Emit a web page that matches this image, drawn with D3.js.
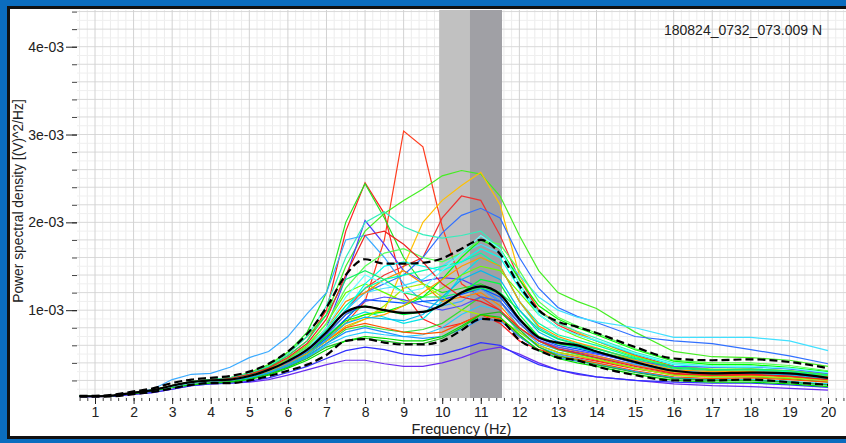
<!DOCTYPE html>
<html>
<head>
<meta charset="utf-8">
<script src="https://cdn.jsdelivr.net/npm/d3@7"></script>
<style>
  html, body { margin: 0; padding: 0; background: #0b6dbf; }
  svg { display: block; font-family: "Liberation Sans", Arial, sans-serif; }
</style>
</head>
<body>
<svg id="chart"></svg>
<script>
// frequencies (Hz) at which every spectrum is read
const freqs = [0.6, 1, 1.5, 2, 2.5, 3, 3.5, 4, 4.5, 5, 5.5, 6, 6.5, 7, 7.5, 8, 8.5, 9, 9.5, 10,
  10.5, 11, 11.5, 12, 12.5, 13, 13.5, 14, 15, 16, 17, 18, 19, 20];

// power spectral density, in units of 1e-4 (V)^2/Hz
const spectra = [
  [0.2,0.2,0.3,0.6,0.9,1.4,1.8,2.0,2.1,2.6,3.3,4.3,5.5,7.0,8.5,11,18,30.4,28.6,19.5,13,11.5,10,7.5,6,5.2,4.8,4.3,3.4,2.7,2.5,2.6,2.4,2.0],
  [0.2,0.2,0.3,0.6,0.9,1.4,1.8,2.1,2.2,2.7,3.5,4.8,6.5,10,19,24.5,21,12,9,8,8.5,9.5,8.5,6.5,5.5,5,4.6,4.2,3.3,2.7,2.6,2.7,2.5,2.1],
  [0.2,0.2,0.3,0.6,0.9,1.4,1.9,2.1,2.3,2.8,3.7,5.2,7.5,12,20,24.4,20.5,16,13,12,12.5,13,12,9,7,6.2,5.8,5.3,4.3,3.4,3.1,3.2,3.0,2.6],
  [0.2,0.2,0.3,0.6,0.9,1.4,1.8,2.1,2.3,2.9,3.8,5.2,7,9.5,15,19,21,22.5,23.8,25.3,25.9,25.5,23,18.5,14.5,12,11,10.2,7.5,5.3,4.7,4.6,4.3,3.6],
  [0.2,0.2,0.3,0.6,0.9,1.3,1.7,1.9,2.0,2.4,3.0,4.0,5.2,6.8,8.5,9.5,10,15,20,22.5,24.2,25.7,22,14,10,8.5,7.5,6.5,4.8,3.6,3.2,3.2,3.0,2.6],
  [0.2,0.2,0.3,0.6,0.9,1.4,1.8,2.0,2.2,2.6,3.3,4.4,5.8,7.5,10,12.5,14,15,16,20.5,23,22.5,18.5,13.5,10,8.3,7.3,6.5,4.9,3.6,3.2,3.3,3.1,2.7],
  [0.2,0.2,0.3,0.6,0.9,1.4,1.8,2.0,2.2,2.6,3.3,4.4,5.8,7.5,10,12,13,14,16,18.8,20.8,21.6,20.5,16,12.5,10.3,9.3,8.6,7,6.5,6.2,5.5,4.8,3.9],
  [0.2,0.2,0.3,0.6,0.9,1.4,1.8,2.0,2.2,2.6,3.2,4.2,5.6,8,13.7,20.2,17.5,14.5,13.3,13.7,13.5,12.5,11,8.5,6.5,5.6,5.2,4.8,3.8,3.0,2.8,2.9,2.7,2.3],
  [0.2,0.2,0.3,0.6,0.9,1.4,1.8,2.1,2.3,2.8,3.6,5,7,10.5,16,20,21.2,19.5,18.6,18.2,18.5,19,17,13,9.8,8.5,7.6,6.8,5.2,4.0,3.6,3.6,3.4,2.9],
  [0.2,0.2,0.3,0.6,1.0,2.1,2.7,2.8,3.5,4.6,5.3,7.0,9.6,12,18,18.5,16,13,11,10.5,11,12.5,11,8,6.2,5.5,5,4.6,3.8,3.1,2.9,3.0,2.8,2.4],
  [0.2,0.2,0.3,0.6,0.9,1.3,1.7,2.0,2.1,2.5,3.1,4.2,5.5,7.5,10,12,12.5,12.8,13.5,15,16.5,17.5,16.5,14,11.5,10,9.2,8.7,8.0,6.9,6.9,6.9,6.5,5.4],
  [0.15,0.15,0.2,0.4,0.6,1.0,1.4,1.6,1.7,1.8,2.1,2.6,3.2,3.8,4.3,4.3,3.9,3.6,3.6,4.0,4.6,5.4,5.8,5.0,4.0,3.2,2.7,2.4,2.0,1.6,1.4,1.3,1.1,0.9],
  [0.15,0.15,0.2,0.45,0.65,1.0,1.4,1.6,1.7,1.9,2.3,2.9,3.6,4.5,5.4,5.8,5.5,5.0,4.8,5.0,5.6,6.3,6.0,4.8,3.8,3.2,2.8,2.4,2.0,1.8,1.7,1.7,1.5,1.2],
  [0.2,0.2,0.3,0.6,0.9,1.3,1.7,1.9,2.0,2.4,3.0,4.0,5.3,7.2,9.5,10.5,10,9.5,9.8,10.5,12,13.5,13,9.5,7,6.2,5.8,5.2,4.0,3.0,2.7,2.8,2.6,2.2],
  [0.2,0.2,0.3,0.55,0.85,1.3,1.7,1.9,2.0,2.4,3.0,4.0,5.2,7,9,9.8,9.2,8.5,9,11,14,16,15,11,8,6.8,6.2,5.6,4.4,3.3,3.0,3.0,2.8,2.4],
  [0.2,0.2,0.3,0.6,0.9,1.4,1.8,2.0,2.1,2.6,3.3,4.5,6,8.5,12,13,12,11,11.5,12.5,14,15,14.5,12,9.5,8,7,6.2,4.7,3.6,3.3,3.3,3.1,2.7],
  [0.2,0.2,0.3,0.6,0.9,1.4,1.8,2.0,2.1,2.5,3.2,4.3,5.7,8,11,12,13.5,14.5,13,11,11.5,12,10.5,8,6.5,5.8,5.3,4.8,3.7,2.9,2.8,2.9,2.7,2.3],
  [0.2,0.2,0.3,0.6,0.9,1.3,1.7,1.9,2.1,2.5,3.1,4.2,5.6,7.8,10.5,12.5,13.5,14,14.5,15,15.5,16.5,15,11,8.5,7.2,6.6,6,4.6,3.5,3.2,3.2,3.0,2.5],
  [0.2,0.2,0.3,0.55,0.85,1.3,1.7,1.9,2.0,2.3,2.9,3.8,5,6.8,9,11.2,11,10.8,11,11.2,11.8,12.5,11.5,8.8,6.8,6,5.6,5.1,4.0,3.1,2.8,2.9,2.7,2.3],
  [0.2,0.2,0.3,0.55,0.85,1.2,1.6,1.8,1.9,2.3,2.8,3.7,4.8,6.2,7.8,8.2,7.8,7.5,7.8,8.5,10,11.5,11,8.5,6.5,5.5,5,4.5,3.4,2.6,2.4,2.4,2.2,1.8],
  [0.2,0.2,0.3,0.55,0.8,1.2,1.6,1.8,1.9,2.2,2.8,3.6,4.6,6,7,7.5,7.2,7,7.2,8,9.5,10.5,10,7.5,5.8,5,4.5,4.0,3.0,2.3,2.1,2.1,1.9,1.6],
  [0.2,0.2,0.3,0.6,0.9,1.3,1.7,1.9,2.0,2.4,3.0,4.0,5.2,7,8.8,9.5,9.8,10.5,11.5,13.5,16,18,17,13.5,10.5,9,8,7.2,5.5,4.2,3.8,3.8,3.5,3.0],
  [0.2,0.2,0.3,0.6,0.9,1.3,1.7,1.9,2.0,2.4,3.0,3.9,5,6.5,8,9,10.5,12.5,13,11.5,10,9.5,9,7.5,6,5.2,4.8,4.4,3.4,2.6,2.4,2.5,2.3,2.0],
  [0.2,0.2,0.3,0.55,0.85,1.2,1.6,1.8,1.9,2.3,2.9,3.8,5,6.5,8,8.5,8,7.5,7.3,7.5,8.5,9.5,9,7,5.5,4.8,4.4,4.0,3.1,2.4,2.2,2.3,2.1,1.8],
  [0.2,0.2,0.3,0.6,0.9,1.3,1.8,2.0,2.1,2.5,3.2,4.3,5.8,8.5,12.5,15,16.5,17,16,15.5,16.5,18,17.5,14.5,11,9.2,8.2,7.4,5.6,4.3,4.0,4.0,3.7,3.1],
  [0.2,0.2,0.3,0.55,0.85,1.3,1.6,1.8,1.9,2.2,2.8,3.6,4.7,6.2,7.5,8,7.5,7,6.8,7,7.8,9,8.8,7,5.4,4.6,4.2,3.8,3.0,2.3,2.0,2.0,1.8,1.5],
  [0.2,0.2,0.3,0.55,0.85,1.3,1.7,1.9,2.0,2.4,3.0,4.0,5.3,7.3,10,13,15,15.5,15,14.5,15.5,17,16,12.5,9.5,8,7.2,6.5,5,3.8,3.5,3.5,3.3,2.8],
  [0.2,0.2,0.3,0.55,0.8,1.2,1.6,1.8,1.9,2.2,2.7,3.5,4.5,5.8,6.5,6.8,6.5,6.2,6.2,6.8,8,9.5,9.8,7.8,5.8,4.8,4.3,3.8,2.9,2.2,2.0,2.0,1.8,1.5],
  [0.2,0.2,0.3,0.55,0.85,1.3,1.7,1.9,2.0,2.4,3.0,4.0,5.3,7.2,9.5,11,11.5,11.2,10.5,10,10.5,11.5,11,8.5,6.6,5.8,5.4,5.0,4.2,3.6,3.5,3.6,3.3,2.8],
  [0.2,0.2,0.3,0.55,0.85,1.3,1.7,1.9,2.0,2.4,3.0,3.9,5,6.5,8.2,9,9.5,10.5,12,13.5,15,16,15,11,8.2,7,6.3,5.7,4.3,3.2,3.0,3.0,2.8,2.4],
  [0.2,0.2,0.3,0.6,0.9,1.4,1.8,2.0,2.2,2.7,3.5,4.8,6.5,9.5,13.5,14.5,13.5,12,11.5,11.5,12,12.5,12,10,7.8,6.7,6.1,5.6,4.5,3.5,3.2,3.3,3.1,2.6],
  [0.2,0.2,0.3,0.55,0.85,1.3,1.7,1.9,2.0,2.3,2.9,3.8,4.9,6.6,8.5,9.2,9,8.8,9.5,11.5,13.5,14.5,13.5,10,7.5,6.4,5.8,5.3,4.1,3.1,2.8,2.8,2.6,2.2],
  [0.2,0.2,0.3,0.5,0.8,1.2,1.5,1.7,1.8,2.1,2.6,3.4,4.3,5.5,6.5,7,6.8,6.5,6.5,7,8.2,9.5,9.2,7.2,5.4,4.5,4.0,3.6,2.7,2.0,1.8,1.8,1.6,1.3],
  [0.2,0.2,0.3,0.6,0.9,1.4,1.8,2.0,2.2,2.7,3.4,4.6,6.2,9,14,18.5,19,17.5,15.5,13,11.5,11,10,8,6.5,5.6,5.1,4.6,3.6,2.8,2.6,2.7,2.5,2.1],
  [0.2,0.2,0.3,0.6,0.9,1.3,1.7,1.9,2.1,2.5,3.1,4.2,5.6,8,11.5,14,13,12,12.5,14.5,16.5,18.5,17,13,9.5,8,7.2,6.6,5.1,3.9,3.6,3.6,3.4,2.9]
];

const spectraColors = [
  "#ff3c1e", "#ff2020", "#22e622", "#44ee22", "#ffc000", "#ee3333", "#3070ff", "#4a3cff",
  "#33eebb", "#3aaaff", "#40e0ff", "#6a2cf0", "#3030ff", "#00ff40", "#00e5e5", "#66ff00",
  "#ff8800", "#00ffaa", "#0055ff", "#33dd33", "#22ccff", "#00ff00", "#aaee00", "#ff5500",
  "#55ff55", "#1e90ff", "#00ffee", "#22bb22", "#5050ff", "#ff9900", "#11ee66", "#00bbee",
  "#00dd00", "#ee2222", "#66ffff"
];

// mean and mean +/- one standard deviation, units of 1e-4
const meanPsd = [0.2,0.2,0.3,0.6,0.9,1.4,1.8,2.0,2.1,2.5,3.2,4.2,5.5,7.5,9.8,10.4,10.0,9.7,9.8,10.6,12.0,12.7,11.8,9.0,6.9,6.3,6.0,5.3,4.1,3.1,2.8,2.9,2.8,2.3];
const upperPsd = [0.25,0.25,0.4,0.75,1.1,1.7,2.1,2.3,2.5,3.0,3.9,5.3,7.3,10.3,14.0,15.8,15.3,15.3,15.4,15.9,17.0,18.0,16.4,12.8,10.0,8.7,8.1,7.4,5.8,4.5,4.3,4.4,4.1,3.4];
const lowerPsd = [0.15,0.15,0.2,0.45,0.7,1.1,1.5,1.7,1.7,2.0,2.5,3.1,3.8,4.9,6.5,6.7,6.3,6.1,6.1,6.5,7.7,9.0,8.8,6.6,5.4,4.6,4.3,3.6,2.6,2.0,2.0,2.1,1.8,1.5];

// shaded frequency bands (Hz)
const bands = [[9.92, 10.72], [10.72, 11.55]];
const bandColors = ["#c1c1c1", "#a0a0a5"];

const xTicks = d3.range(1, 21);
const yTicks = [1e-3, 2e-3, 3e-3, 4e-3];
const yTickLabels = ["1e-03", "2e-03", "3e-03", "4e-03"];
const title = "180824_0732_073.009 N";

const width = 846, height = 443;
const plot = { left: 77, right: 846, top: 10, bottom: 398 };

const svg = d3.select("#chart")
  .attr("width", width)
  .attr("height", height)
  .attr("viewBox", [0, 0, width, height]);

// frame
svg.append("rect").attr("width", width).attr("height", height).attr("fill", "#0b6dbf");
svg.append("rect")
  .attr("x", 8.5).attr("y", 7.5)
  .attr("width", 860).attr("height", 430)
  .attr("fill", "white")
  .attr("stroke", "#111")
  .attr("stroke-width", 3);

const x = d3.scaleLinear().domain([1, 20]).range([95, 828]);
const y = d3.scaleLinear().domain([0, 4e-3]).range([398, 46.7]);

svg.append("clipPath").attr("id", "clip")
  .append("rect")
  .attr("x", plot.left).attr("y", plot.top)
  .attr("width", plot.right - plot.left).attr("height", plot.bottom - plot.top);

const g = svg.append("g").attr("clip-path", "url(#clip)");

// grid
const xMinor = d3.range(3, 103).map(i => i / 5);
const yMinor = d3.range(1, 45).map(i => i * 1e-4);

g.selectAll(".vminor")
  .data(xMinor.filter(d => Math.abs(d - Math.round(d)) > 1e-6))
  .join("line")
    .attr("x1", d => x(d)).attr("x2", d => x(d))
    .attr("y1", plot.top).attr("y2", plot.bottom)
    .attr("stroke", "#ececec");

g.selectAll(".hline")
  .data(yMinor)
  .join("line")
    .attr("x1", plot.left).attr("x2", plot.right)
    .attr("y1", d => y(d)).attr("y2", d => y(d))
    .attr("stroke", (d, i) => (i % 2 === 1) ? "#d9d9d9" : "#efefef");

g.selectAll(".vmajor")
  .data(xTicks)
  .join("line")
    .attr("x1", d => x(d)).attr("x2", d => x(d))
    .attr("y1", plot.top).attr("y2", plot.bottom)
    .attr("stroke", "#d2d2d2");

// bands
g.selectAll(".band")
  .data(bands)
  .join("rect")
    .attr("x", d => x(d[0]))
    .attr("width", d => x(d[1]) - x(d[0]))
    .attr("y", plot.top)
    .attr("height", plot.bottom - plot.top)
    .attr("fill", (d, i) => bandColors[i]);

const toPoints = vals => vals.map((v, i) => [freqs[i], v * 1e-4]);

const line = d3.line()
  .x(d => x(d[0]))
  .y(d => y(d[1]));

const smooth = d3.line()
  .x(d => x(d[0]))
  .y(d => y(d[1]))
  .curve(d3.curveMonotoneX);

g.selectAll(".spectrum")
  .data(spectra)
  .join("path")
    .attr("class", "spectrum")
    .attr("d", d => line(toPoints(d)))
    .attr("fill", "none")
    .attr("stroke", (d, i) => spectraColors[i])
    .attr("stroke-width", 1.2);

[upperPsd, lowerPsd].forEach(vals => {
  g.append("path")
    .attr("d", smooth(toPoints(vals)))
    .attr("fill", "none")
    .attr("stroke", "#000")
    .attr("stroke-width", 2.2)
    .attr("stroke-dasharray", "8,4");
});

g.append("path")
  .attr("d", smooth(toPoints(meanPsd)))
  .attr("fill", "none")
  .attr("stroke", "#000")
  .attr("stroke-width", 2.2);

// axes
const fontSize = 14;

svg.append("g")
  .attr("transform", `translate(${plot.left},0)`)
  .call(d3.axisLeft(y).tickValues(d3.range(1, 23).map(i => i * 2e-4)).tickSize(5).tickFormat(""))
  .call(a => a.select(".domain").remove())
  .call(a => a.selectAll(".tick line").attr("stroke", "#444"));

svg.append("g")
  .attr("transform", `translate(${plot.left},0)`)
  .call(d3.axisLeft(y).tickValues(yTicks).tickSize(11).tickPadding(2)
    .tickFormat((d, i) => yTickLabels[i]))
  .call(a => a.select(".domain").remove())
  .call(a => a.selectAll(".tick line").attr("stroke", "#222"))
  .call(a => a.selectAll("text")
    .attr("font-size", fontSize)
    .attr("font-family", "'Liberation Sans', Arial, sans-serif")
    .attr("fill", "#222"));

svg.append("g")
  .attr("transform", `translate(0,${plot.bottom})`)
  .call(d3.axisBottom(x).tickValues(xMinor).tickSize(3).tickFormat(""))
  .call(a => a.select(".domain").remove())
  .call(a => a.selectAll(".tick line").attr("stroke", "#444"));

svg.append("g")
  .attr("transform", `translate(0,${plot.bottom})`)
  .call(d3.axisBottom(x).tickValues(xTicks).tickSize(6).tickPadding(3))
  .call(a => a.select(".domain").remove())
  .call(a => a.selectAll(".tick line").attr("stroke", "#222"))
  .call(a => a.selectAll("text")
    .attr("font-size", fontSize)
    .attr("font-family", "'Liberation Sans', Arial, sans-serif")
    .attr("fill", "#222"));

svg.append("text")
  .attr("x", (plot.left + plot.right) / 2)
  .attr("y", 434)
  .attr("text-anchor", "middle")
  .attr("font-size", 14.5)
  .attr("fill", "#222")
  .text("Frequency (Hz)");

svg.append("text")
  .attr("transform", `translate(23,${201}) rotate(-90)`)
  .attr("text-anchor", "middle")
  .attr("font-size", 13.8)
  .attr("fill", "#222")
  .text("Power spectral density [(V)^2/Hz]");

svg.append("text")
  .attr("x", 822)
  .attr("y", 35)
  .attr("text-anchor", "end")
  .attr("font-size", 14)
  .attr("fill", "#222")
  .text(title);
</script>
</body>
</html>
